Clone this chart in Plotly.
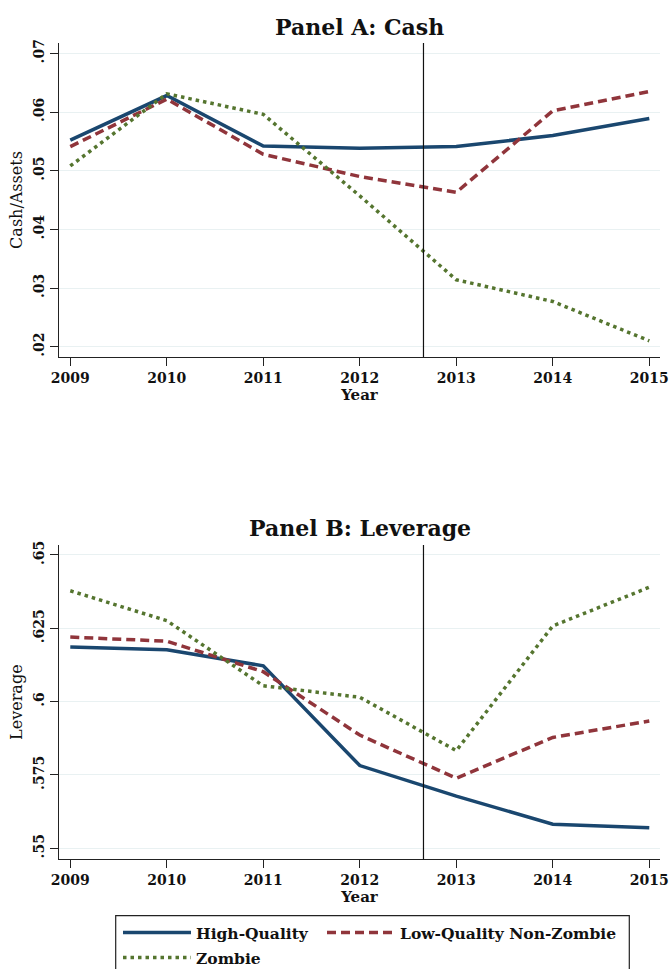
import plotly.graph_objects as go

# Firm groups and years
years = [2009, 2010, 2011, 2012, 2013, 2014, 2015]
groups = ["High-Quality", "Low-Quality Non-Zombie", "Zombie"]

# Panel A: cash / assets
cash_hq = [0.0552, 0.0628, 0.0542, 0.0538, 0.0541, 0.0560, 0.0589]
cash_lq = [0.0541, 0.0622, 0.0528, 0.0490, 0.0463, 0.0602, 0.0635]
cash_zb = [0.0508, 0.0631, 0.0596, 0.0457, 0.0314, 0.0277, 0.0210]

# Panel B: leverage
lev_hq = [0.6186, 0.6177, 0.6122, 0.5782, 0.5678, 0.5582, 0.5570]
lev_lq = [0.6220, 0.6206, 0.6102, 0.5886, 0.5739, 0.5878, 0.5934]
lev_zb = [0.6378, 0.6276, 0.6054, 0.6015, 0.5833, 0.6258, 0.6390]

# Axis ticks
cash_ticks = [0.02, 0.03, 0.04, 0.05, 0.06, 0.07]
cash_ticktext = [".02", ".03", ".04", ".05", ".06", ".07"]
lev_ticks = [0.55, 0.575, 0.6, 0.625, 0.65]
lev_ticktext = [".55", ".575", ".6", ".625", ".65"]

# Policy event marker
event_year = 2012.66

FONT = "DejaVu Serif"
INK = "#111"
colors = ["#1a476f", "#90353b", "#55752f"]
dashes = ["solid", "9px,5px", "3.5px,4px"]
legend_ids = ["legend", "legend2", "legend3"]

W, H = 670, 969
ML, MR = 59, 10
plot_w = W - ML - MR


def px_x(px):
    return (px - ML) / plot_w


def px_y(px):
    return 1 - px / H


fig = go.Figure()

for i, (g, ya, yb) in enumerate(zip(groups, [cash_hq, cash_lq, cash_zb], [lev_hq, lev_lq, lev_zb])):
    line = dict(color=colors[i], width=3.5, dash=dashes[i])
    fig.add_trace(go.Scatter(x=years, y=ya, mode="lines", name=g, line=line,
                             legendgroup=g, showlegend=True, legend=legend_ids[i],
                             xaxis="x", yaxis="y"))
    fig.add_trace(go.Scatter(x=years, y=yb, mode="lines", name=g, line=line,
                             legendgroup=g, showlegend=False, xaxis="x2", yaxis="y2"))

tick_font = dict(family=FONT, size=14, color=INK, weight="bold")

xaxis_common = dict(
    range=[2008.883, 2015.111],
    tickvals=years,
    ticks="outside", ticklen=8, tickwidth=1.2, tickcolor="#222",
    showline=True, linecolor="#222", linewidth=1.2,
    showgrid=False, zeroline=False,
    tickfont=tick_font,
    title=dict(text="Year", font=dict(family=FONT, size=15, color=INK, weight="bold"), standoff=2),
)
yaxis_common = dict(
    ticks="outside", ticklen=8, tickwidth=1.2, tickcolor="#222",
    showline=True, linecolor="#222", linewidth=1.2,
    showgrid=True, gridcolor="#e9f1f2", gridwidth=1.2, zeroline=False,
    tickangle=-90,
    tickfont=tick_font,
)


def legend_at(left_px, center_px):
    return dict(
        x=px_x(left_px), xanchor="left",
        y=px_y(center_px), yanchor="middle",
        borderwidth=0, bgcolor="rgba(0,0,0,0)",
        font=dict(family=FONT, size=15.5, color=INK, weight="bold"),
        itemwidth=68,
    )


fig.update_layout(
    width=W, height=H,
    margin=dict(l=ML, r=MR, t=0, b=0, autoexpand=False),
    paper_bgcolor="white", plot_bgcolor="white",
    xaxis=dict(domain=[0, 1], anchor="y", **xaxis_common),
    xaxis2=dict(domain=[0, 1], anchor="y2", **xaxis_common),
    yaxis=dict(domain=[px_y(357), px_y(43)], anchor="x", range=[0.01824, 0.07176],
               tickvals=cash_ticks, ticktext=cash_ticktext,
               title=dict(text="Cash/Assets", font=dict(family=FONT, size=16, color=INK), standoff=4),
               **yaxis_common),
    yaxis2=dict(domain=[px_y(859.3), px_y(545)], anchor="x2", range=[0.54625, 0.6534],
                tickvals=lev_ticks, ticktext=lev_ticktext,
                title=dict(text="Leverage", font=dict(family=FONT, size=16, color=INK), standoff=4),
                **yaxis_common),
    legend=legend_at(118, 933),
    legend2=legend_at(322, 933),
    legend3=legend_at(118, 958),
    annotations=[
        dict(text="Panel A: Cash", x=0.5, xref="paper", y=px_y(27), yref="paper",
             yanchor="middle", showarrow=False,
             font=dict(family=FONT, size=22, color=INK, weight="bold")),
        dict(text="Panel B: Leverage", x=0.5, xref="paper", y=px_y(528), yref="paper",
             yanchor="middle", showarrow=False,
             font=dict(family=FONT, size=22, color=INK, weight="bold")),
    ],
    shapes=[
        dict(type="line", xref="x", yref="y domain", x0=event_year, x1=event_year, y0=0, y1=1,
             line=dict(color=INK, width=1.2)),
        dict(type="line", xref="x2", yref="y2 domain", x0=event_year, x1=event_year, y0=0, y1=1,
             line=dict(color=INK, width=1.2)),
        # legend frame
        dict(type="rect", xref="paper", yref="paper",
             x0=px_x(115.7), x1=px_x(629.3), y0=px_y(980), y1=px_y(915.7),
             line=dict(color="#222", width=1.2), fillcolor="rgba(0,0,0,0)"),
    ],
)

fig.write_html("out.html")
